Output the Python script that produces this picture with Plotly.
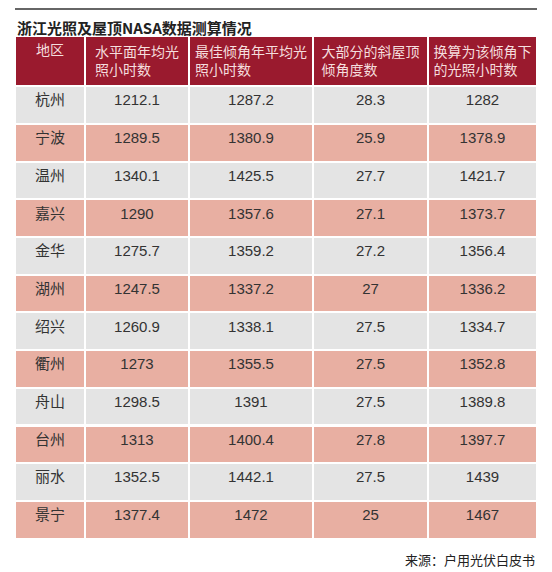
import plotly.graph_objects as go

headers = ["地区", "水平面年均光<br>照小时数", "最佳倾角年平均光<br>照小时数", "大部分的斜屋顶<br>倾角度数", "换算为该倾角下<br>的光照小时数"]
regions = ["杭州", "宁波", "温州", "嘉兴", "金华", "湖州", "绍兴", "衢州", "舟山", "台州", "丽水", "景宁"]
horizontal = ["1212.1", "1289.5", "1340.1", "1290", "1275.7", "1247.5", "1260.9", "1273", "1298.5", "1313", "1352.5", "1377.4"]
best_tilt = ["1287.2", "1380.9", "1425.5", "1357.6", "1359.2", "1337.2", "1338.1", "1355.5", "1391", "1400.4", "1442.1", "1472"]
roof_angle = ["28.3", "25.9", "27.7", "27.1", "27.2", "27", "27.5", "27.5", "27.5", "27.8", "27.5", "25"]
converted = ["1282", "1378.9", "1421.7", "1373.7", "1356.4", "1336.2", "1334.7", "1352.8", "1389.8", "1397.7", "1439", "1467"]

W, H = 552, 572
O = 8  # page body offset
row_colors = ["#e4e4e4" if i % 2 == 0 else "#e8afa2" for i in range(len(regions))]
font = "Liberation Sans, Noto Sans CJK SC"

def px(x): return (x - O) / W
def py(y): return 1 - (y - O) / H

fig = go.Figure(go.Table(
    columnwidth=[70, 104, 124, 115, 109],
    domain=dict(x=[px(15), px(537)], y=[py(548), py(36)]),
    header=dict(values=headers, fill_color="#9a1a2e", line=dict(color="white", width=2),
                font=dict(family=font, size=14, color="#f5dede"), height=48, align="center"),
    cells=dict(values=[regions, horizontal, best_tilt, roof_angle, converted],
               fill_color=[row_colors] * 5, line=dict(color="white", width=2),
               font=dict(family=font, size=15, color="#333333"), height=37.7, align="center"),
))
fig.update_layout(
    width=W, height=H, margin=dict(l=0, r=0, t=0, b=0), paper_bgcolor="white",
    shapes=[dict(type="line", xref="paper", yref="paper", x0=px(15), x1=px(537),
                 y0=py(9), y1=py(9), line=dict(color="#333", width=1.5))],
    annotations=[
        dict(text="<b>浙江光照及屋顶NASA数据测算情况</b>", xref="paper", yref="paper",
             x=px(15), y=py(27), xanchor="left", yanchor="middle", showarrow=False,
             font=dict(family="Noto Sans CJK SC", size=15, color="#222")),
        dict(text="来源：户用光伏白皮书", xref="paper", yref="paper",
             x=px(537), y=py(559), xanchor="right", yanchor="middle", showarrow=False,
             font=dict(family="Noto Sans CJK SC", size=13, color="#222")),
    ],
)
fig.write_html("out.html")
